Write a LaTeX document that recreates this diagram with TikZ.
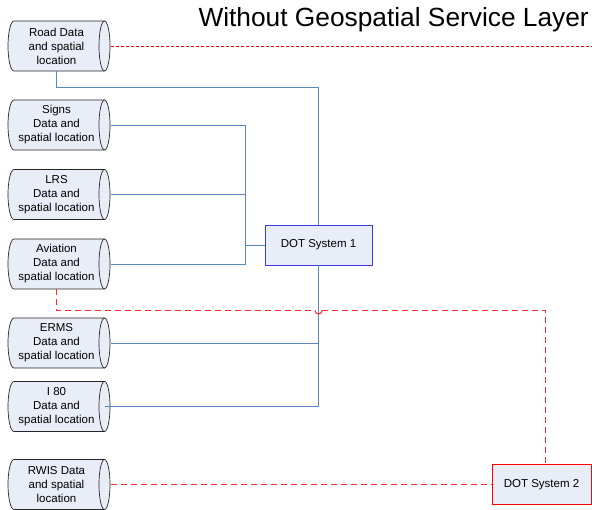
\documentclass[tikz,border=0pt]{standalone}
\usepackage{fontspec}
\setmainfont{Liberation Sans}
\usetikzlibrary{calc}
\definecolor{boxfill}{HTML}{E8EDF7}
\definecolor{linkblue}{HTML}{5A86C6}
\definecolor{sysblue}{HTML}{3A3AE0}
\definecolor{linkred}{HTML}{FF0000}
\definecolor{dashred}{HTML}{FF2A2A}
\tikzset{
  store/.style={rectangle, minimum width=97pt, minimum height=50pt, inner sep=0pt,
    align=center, font=\fontsize{11.5}{14}\selectfont},
  drum/.style={draw=black!85, line width=0.7pt, fill=boxfill},
  system/.style={draw, line width=0.9pt, fill=boxfill, inner sep=0pt,
    font=\fontsize{11.5}{14}\selectfont},
  bluelink/.style={color=linkblue, line width=0.9pt},
  redfine/.style={color=linkred, line width=0.8pt, dash pattern=on 3pt off 2pt},
  reddash/.style={color=dashred, line width=1.1pt, dash pattern=on 6pt off 4pt}
}
% horizontal data-store drum, spanning x = 8..110, centred vertically on #1
\newcommand\storedrum[1]{%
  \draw[drum] (14,#1-25) -- (104.5,#1-25)
    arc[start angle=-90, end angle=90, x radius=5.5, y radius=25]
    -- (14,#1+25)
    arc[start angle=90, end angle=270, x radius=6, y radius=25] -- cycle;
  \draw[drum, fill=none] (104.5,#1-25)
    arc[start angle=270, end angle=90, x radius=5.5, y radius=25];
}
\begin{document}
\begin{tikzpicture}[x=1pt,y=-1pt]
\useasboundingbox (0,0) rectangle (592,510);

% title
\node[anchor=base east, inner sep=0pt, font=\fontsize{26.3}{31}\selectfont] (title) at (589,27) {Without Geospatial Service Layer};

% data stores: outlines first, then their labels
\foreach \y in {46,125,194.5,264,343,406.5,484.5} {\storedrum{\y}}
\node[store] (road) at (56.5,46) {Road Data\\and spatial\\location};
\node[store] (signs) at (56.5,125) {Signs\\Data and\\spatial location};
\node[store] (lrs) at (56.5,194.5) {LRS\\Data and\\spatial location};
\node[store] (aviation) at (56.5,264) {Aviation\\Data and\\spatial location};
\node[store] (erms) at (56.5,343) {ERMS\\Data and\\spatial location};
\node[store] (ieighty) at (56.5,406.5) {I 80\\Data and\\spatial location};
\node[store] (rwis) at (56.5,484.5) {RWIS Data\\and spatial\\location};

% systems
\node[system, draw=sysblue, minimum width=107pt, minimum height=40pt] (dot1) at (318.5,245) {DOT System 1};
\node[system, draw=linkred, minimum width=99pt, minimum height=40pt] (dot2) at (541.5,484.5) {DOT System 2};

% junction points
\coordinate (bus) at (245,125);
\coordinate (roadEnd) at (592,46);
\coordinate (hop) at (dot1.south |- 0,310.5);
\coordinate (hopL) at ($(hop)+(-3.5,0)$);
\coordinate (hopR) at ($(hop)+(3.5,0)$);

% blue connections to DOT System 1
\draw[bluelink] (road.south) -- ++(0,16) -| (dot1.north);
\draw[bluelink] ($(signs.east)+(6,0)$) -- (signs.east -| bus) -- (aviation.east -| bus) -- ($(aviation.east)+(6,0)$);
\draw[bluelink] ($(lrs.east)+(6,0)$) -- (lrs.east -| bus);
\draw[bluelink] (dot1.west) -- (dot1.west -| bus);
\draw[bluelink] (dot1.south) |- (ieighty.east);
\draw[bluelink] ($(erms.east)+(6,0)$) -- (erms.east -| dot1.south);

% red connections
\draw[redfine] ($(road.east)+(6,0)$) -- (roadEnd);
\draw[reddash] (aviation.south) |- (hopL);
\draw[color=dashred, line width=1.1pt] (hopL) arc[start angle=180, end angle=0, radius=3.5];
\draw[reddash] (hopR) -| ($(dot2.north)+(4,0)$);
\draw[reddash] ($(rwis.east)+(6,0)$) -- (dot2.west);
\end{tikzpicture}
\end{document}
